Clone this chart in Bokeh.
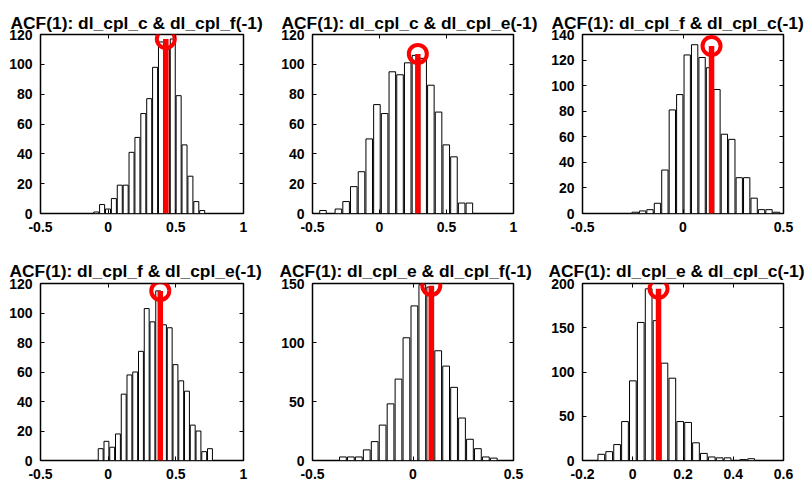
from bokeh.plotting import figure
from bokeh.models import Range1d, FixedTicker, LinearAxis
from bokeh.layouts import column, row
from bokeh.embed import file_html
from bokeh.resources import INLINE

# ---------------- data ----------------
titles = [
    "ACF(1): dl_cpl_c & dl_cpl_f(-1)",
    "ACF(1): dl_cpl_c & dl_cpl_e(-1)",
    "ACF(1): dl_cpl_f & dl_cpl_c(-1)",
    "ACF(1): dl_cpl_f & dl_cpl_e(-1)",
    "ACF(1): dl_cpl_e & dl_cpl_f(-1)",
    "ACF(1): dl_cpl_e & dl_cpl_c(-1)",
]

# histogram: first bin left edge, bin width, counts
bin_start_1 = -0.110
bin_width_1 = 0.0435
counts_1 = [1, 6, 3, 10, 19, 19, 41, 51, 67, 77, 98, 115, 110, 117, 79, 46, 25, 8, 2]

bin_start_2 = -0.4505
bin_width_2 = 0.0575
counts_2 = [2, 0, 3, 8, 18, 28, 50, 73, 67, 95, 93, 101, 106, 104, 86, 68, 46, 38, 7, 7]

bin_start_3 = -0.2566
bin_width_3 = 0.037
counts_3 = [1, 2, 3, 8, 34, 81, 93, 124, 132, 122, 114, 97, 62, 58, 28, 28, 12, 3, 3, 1]

bin_start_4 = -0.0765
bin_width_4 = 0.0425
counts_4 = [8, 13, 9, 18, 45, 58, 60, 74, 103, 94, 115, 92, 90, 65, 54, 47, 24, 20, 6, 8]

bin_start_5 = -0.3684
bin_width_5 = 0.0395
counts_5 = [3, 3, 3, 9, 16, 30, 48, 69, 104, 131, 149, 147, 93, 80, 62, 36, 18, 10, 3, 2]

bin_start_6 = -0.1408
bin_width_6 = 0.0314
counts_6 = [7, 10, 18, 44, 90, 156, 194, 158, 110, 93, 44, 43, 20, 8, 4, 3, 3, 0, 1, 2]

# observed statistic (red line + circle)
obs_x = [0.426, 0.286, 0.142, 0.385, 0.091, 0.1026]
obs_y = [117, 107, 131, 115, 148, 194]

# axes
x_ranges = [(-0.5, 1.0), (-0.5, 1.0), (-0.5, 0.5), (-0.5, 1.0), (-0.5, 0.5), (-0.2, 0.6)]
y_ranges = [(0, 120), (0, 120), (0, 140), (0, 120), (0, 150), (0, 200)]
x_ticks = [[-0.5, 0, 0.5, 1], [-0.5, 0, 0.5, 1], [-0.5, 0, 0.5], [-0.5, 0, 0.5, 1],
           [-0.5, 0, 0.5], [-0.2, 0, 0.2, 0.4, 0.6]]
x_tick_labels = [["-0.5", "0", "0.5", "1"], ["-0.5", "0", "0.5", "1"], ["-0.5", "0", "0.5"],
                 ["-0.5", "0", "0.5", "1"], ["-0.5", "0", "0.5"], ["-0.2", "0", "0.2", "0.4", "0.6"]]
y_ticks = [[0, 20, 40, 60, 80, 100, 120], [0, 20, 40, 60, 80, 100, 120],
           [0, 20, 40, 60, 80, 100, 120, 140], [0, 20, 40, 60, 80, 100, 120],
           [0, 50, 100, 150], [0, 50, 100, 150, 200]]

starts = [bin_start_1, bin_start_2, bin_start_3, bin_start_4, bin_start_5, bin_start_6]
widths = [bin_width_1, bin_width_2, bin_width_3, bin_width_4, bin_width_5, bin_width_6]
counts = [counts_1, counts_2, counts_3, counts_4, counts_5, counts_6]

FONT = "Liberation Sans"


def style_axis(ax, ticks, labels=None, show_labels=True):
    ax.ticker = FixedTicker(ticks=ticks)
    if labels is not None:
        ax.major_label_overrides = {t: l for t, l in zip(ticks, labels)}
    ax.axis_line_color = None
    ax.major_tick_in = 4
    ax.major_tick_out = 0
    ax.major_tick_line_color = "black"
    ax.major_tick_line_width = 1
    ax.minor_tick_line_color = None
    ax.major_label_text_font = FONT
    ax.major_label_text_font_style = "bold"
    if show_labels:
        ax.major_label_text_color = "black"
        ax.major_label_text_font_size = "14px"
    else:
        ax.major_label_text_color = None
        ax.major_label_text_font_size = "1px"
        ax.major_label_standoff = 0


def make_panel(i, width, height, border_left, border_top, border_bottom, border_right,
               title_standoff, title_offset):
    p = figure(width=width, height=height, output_backend="svg", toolbar_location=None,
               x_range=Range1d(*x_ranges[i]), y_range=Range1d(*y_ranges[i]),
               min_border_left=border_left, min_border_right=border_right,
               min_border_top=border_top, min_border_bottom=border_bottom,
               title=titles[i])
    p.title.text_font = FONT
    p.title.text_font_style = "bold"
    p.title.text_font_size = "17.4px"
    p.title.text_color = "black"
    p.title.align = "left"
    p.title.offset = title_offset
    p.title.standoff = title_standoff
    p.xgrid.visible = False
    p.ygrid.visible = False
    p.outline_line_color = "black"
    p.outline_line_width = 1.5
    p.outline_line_alpha = 1
    p.background_fill_color = "white"
    p.border_fill_color = "white"

    style_axis(p.xaxis[0], x_ticks[i], x_tick_labels[i])
    p.xaxis[0].major_label_standoff = 8
    style_axis(p.yaxis[0], y_ticks[i])
    p.yaxis[0].major_label_standoff = 8

    top_ax = LinearAxis()
    style_axis(top_ax, x_ticks[i], show_labels=False)
    p.add_layout(top_ax, "above")
    right_ax = LinearAxis()
    style_axis(right_ax, y_ticks[i], show_labels=False)
    p.add_layout(right_ax, "right")

    w = widths[i]
    c = counts[i]
    lefts = [starts[i] + k * w for k in range(len(c))]
    gap = 0.15 * w
    p.quad(left=[l + gap / 2 for l in lefts], right=[l + w - gap / 2 for l in lefts],
           bottom=0, top=c, fill_color="white", line_color="black", line_width=1)

    p.segment(x0=[obs_x[i]], y0=[0], x1=[obs_x[i]], y1=[obs_y[i]],
              line_color="#ff0000", line_width=5.5)
    p.scatter(x=[obs_x[i]], y=[obs_y[i]], marker="circle", size=18,
              fill_color=None, line_color="#ff0000", line_width=4)
    return p


top_row = row(
    make_panel(0, 278, 248, 40, 34, 35, 35, 3, -30),
    make_panel(1, 270, 248, 32, 34, 35, 35, 3, -31),
    make_panel(2, 261, 248, 32, 34, 35, 26, 3, -31),
)
bottom_row = row(
    make_panel(3, 278, 233, 40, 35, 18, 35, 5, -31),
    make_panel(4, 270, 233, 32, 35, 18, 35, 5, -33),
    make_panel(5, 261, 233, 32, 35, 18, 26, 5, -34),
)
layout = column(top_row, bottom_row)

open("out.html", "w").write(file_html(layout, INLINE))
